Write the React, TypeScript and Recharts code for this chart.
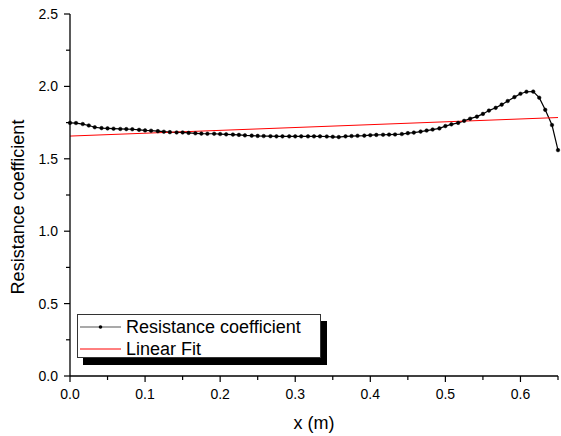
import React from "react";
import { LineChart, Line, XAxis, YAxis } from "recharts";

const X_VALUES = [
  0.0, 0.008, 0.017, 0.025, 0.033, 0.042, 0.05, 0.058, 0.067, 0.075, 0.083, 0.092, 0.1, 0.108, 0.117, 0.125,
  0.133, 0.142, 0.15, 0.158, 0.167, 0.175, 0.183, 0.192, 0.2, 0.208, 0.217, 0.225, 0.233, 0.242, 0.25, 0.258,
  0.267, 0.275, 0.283, 0.292, 0.3, 0.308, 0.317, 0.325, 0.333, 0.342, 0.35, 0.358, 0.367, 0.375, 0.383, 0.392,
  0.4, 0.408, 0.417, 0.425, 0.433, 0.442, 0.45, 0.458, 0.467, 0.475, 0.483, 0.492, 0.5, 0.508, 0.517, 0.525,
  0.533, 0.542, 0.55, 0.558, 0.567, 0.575, 0.583, 0.592, 0.6, 0.608, 0.617, 0.625, 0.633, 0.642, 0.65,
];

const RESISTANCE = [
  1.748, 1.747, 1.74, 1.73, 1.718, 1.712, 1.71, 1.708, 1.706, 1.705, 1.704, 1.7, 1.696, 1.694, 1.691, 1.687,
  1.684, 1.682, 1.682, 1.679, 1.676, 1.674, 1.673, 1.673, 1.671, 1.669, 1.667, 1.665, 1.662, 1.66, 1.658, 1.657,
  1.656, 1.655, 1.655, 1.655, 1.655, 1.655, 1.655, 1.655, 1.655, 1.654, 1.652, 1.65, 1.655, 1.657, 1.659, 1.66,
  1.663, 1.665, 1.666, 1.667, 1.668, 1.671, 1.677, 1.681, 1.688, 1.695, 1.702, 1.71, 1.726, 1.738, 1.748, 1.762,
  1.777, 1.791, 1.81, 1.833, 1.852, 1.874, 1.899, 1.926, 1.949, 1.963, 1.964, 1.922, 1.838, 1.733, 1.56,
];

const FIT_X = [0, 0.65];
const FIT_Y = [1.657, 1.785];

const X_TICKS = [0, 0.05, 0.1, 0.15, 0.2, 0.25, 0.3, 0.35, 0.4, 0.45, 0.5, 0.55, 0.6, 0.65];
const Y_TICKS = [0, 0.25, 0.5, 0.75, 1, 1.25, 1.5, 1.75, 2, 2.25, 2.5];

const seriesData = X_VALUES.map((x, i) => ({ x, y: RESISTANCE[i] }));
const fitData = FIT_X.map((x, i) => ({ x, y: FIT_Y[i] }));

const FONT = "Arial, 'Liberation Sans', sans-serif";

const isMajor = (v: number, step: number) => Math.abs(v / step - Math.round(v / step)) < 1e-6;

const XTick = (props: any) => {
  const { x, y, payload } = props;
  const major = isMajor(payload.value, 0.1);
  return (
    <g>
      <line x1={x} y1={y} x2={x} y2={y + (major ? 6 : 4)} stroke="#000" strokeWidth={1.2} />
      {major && (
        <text x={x} y={y + 23} textAnchor="middle" fontSize={14} fontFamily={FONT} fill="#000">
          {payload.value.toFixed(1)}
        </text>
      )}
    </g>
  );
};

const YTick = (props: any) => {
  const { x, y, payload } = props;
  const major = isMajor(payload.value, 0.5);
  return (
    <g>
      <line x1={x} y1={y} x2={x - (major ? 6 : 4)} y2={y} stroke="#000" strokeWidth={1.2} />
      {major && (
        <text x={x - 12} y={y} dy="0.36em" textAnchor="end" fontSize={14} fontFamily={FONT} fill="#000">
          {payload.value.toFixed(1)}
        </text>
      )}
    </g>
  );
};

// y title sits a little below the plot centre in the original
const YTitle = () => (
  <text
    x={18}
    y={207}
    transform="rotate(-90 18 207)"
    textAnchor="middle"
    dy="0.36em"
    fontSize={18}
    fontFamily={FONT}
    fill="#000"
  >
    Resistance coefficient
  </text>
);

// legend drawn like the Origin box: white panel, thin border, solid black drop shadow
const LegendBox = () => (
  <div
    style={{
      position: "absolute",
      left: 77,
      top: 314,
      width: 244,
      height: 44,
      background: "#fff",
      border: "1px solid #333",
      boxShadow: "6px 7px 0 #000",
      boxSizing: "border-box",
    }}
  >
    <svg width={242} height={42} style={{ display: "block" }}>
      <line x1={2} y1={12} x2={43} y2={12} stroke="#555" strokeWidth={1.2} />
      <circle cx={22.5} cy={12} r={1.8} fill="#000" />
      <text x={48} y={12} dy="0.36em" fontSize={18} fontFamily={FONT} fill="#000">
        Resistance coefficient
      </text>
      <line x1={2} y1={34} x2={43} y2={34} stroke="#ff0000" strokeWidth={1} />
      <text x={48} y={34} dy="0.36em" fontSize={18} fontFamily={FONT} fill="#000">
        Linear Fit
      </text>
    </svg>
  </div>
);

export default function App() {
  return (
    <div style={{ position: "absolute", left: 0, top: 0, width: 561, height: 436, background: "#fff" }}>
      <LineChart width={561} height={436} margin={{ top: 14, right: 3, bottom: 0, left: 0 }}>
        <XAxis
          type="number"
          dataKey="x"
          domain={[0, 0.65]}
          ticks={X_TICKS}
          interval={0}
          height={60}
          tickSize={0}
          tickMargin={0}
          tickLine={false}
          tick={<XTick />}
          axisLine={{ stroke: "#000", strokeWidth: 1.3 }}
          label={{ value: "x (m)", position: "insideBottom", offset: 7, fontSize: 18, fontFamily: FONT, fill: "#000" }}
        />
        <YAxis
          type="number"
          dataKey="y"
          domain={[0, 2.5]}
          ticks={Y_TICKS}
          interval={0}
          width={70}
          tickSize={0}
          tickMargin={0}
          tickLine={false}
          tick={<YTick />}
          axisLine={{ stroke: "#000", strokeWidth: 1.3 }}
          label={{ content: () => <YTitle /> }}
        />
        <Line
          data={seriesData}
          dataKey="y"
          stroke="#000"
          strokeWidth={1.2}
          dot={{ r: 1.8, fill: "#000", stroke: "#000", strokeWidth: 0.5 }}
          isAnimationActive={false}
        />
        <Line data={fitData} dataKey="y" stroke="#ff0000" strokeWidth={1} dot={false} isAnimationActive={false} />
      </LineChart>
      <LegendBox />
    </div>
  );
}
